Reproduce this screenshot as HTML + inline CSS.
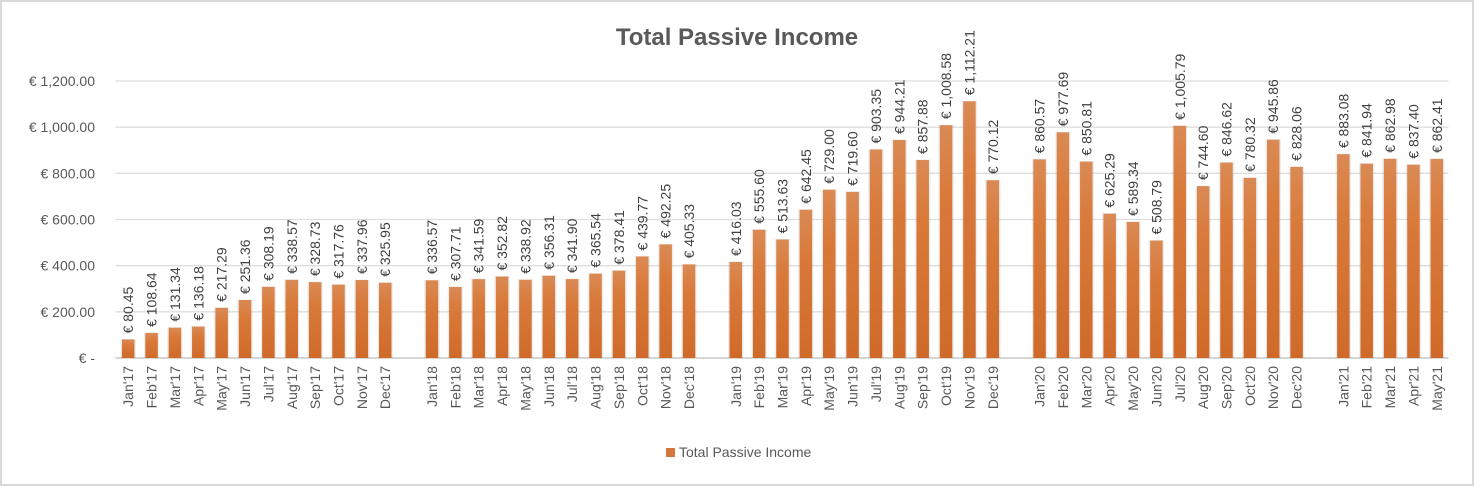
<!DOCTYPE html>
<html><head><meta charset="utf-8"><style>
body{margin:0;background:#fff;}
svg{display:block;font-family:"Liberation Sans",sans-serif;}
</style></head><body>
<svg id="chart" width="1474" height="486" viewBox="0 0 1474 486">
<defs>
<linearGradient id="bg" x1="0" y1="0" x2="0" y2="1"><stop offset="0" stop-color="#da8a55"/><stop offset="0.3" stop-color="#d97a3a"/><stop offset="1" stop-color="#cf6a2a"/></linearGradient>
</defs>
<rect x="1" y="1" width="1472" height="484" fill="#fff" stroke="#d9d9d9" stroke-width="2"/>
<text x="737" y="45" text-anchor="middle" font-size="24" font-weight="bold" fill="#595959">Total Passive Income</text>
<g id="grid"></g><g id="bars"></g><g id="labels"></g>
<g>
<rect x="666" y="448" width="9" height="9" fill="#d5763a"/>
<text x="679" y="457" font-size="14" fill="#595959">Total Passive Income</text>
</g>
</svg>
<script>
const categories=["Jan'17","Feb'17","Mar'17","Apr'17","May'17","Jun'17","Jul'17","Aug'17","Sep'17","Oct'17","Nov'17","Dec'17","",
"Jan'18","Feb'18","Mar'18","Apr'18","May'18","Jun'18","Jul'18","Aug'18","Sep'18","Oct'18","Nov'18","Dec'18","",
"Jan'19","Feb'19","Mar'19","Apr'19","May'19","Jun'19","Jul'19","Aug'19","Sep'19","Oct'19","Nov'19","Dec'19","",
"Jan'20","Feb'20","Mar'20","Apr'20","May'20","Jun'20","Jul'20","Aug'20","Sep'20","Oct'20","Nov'20","Dec'20","",
"Jan'21","Feb'21","Mar'21","Apr'21","May'21"];
const values=[80.45,108.64,131.34,136.18,217.29,251.36,308.19,338.57,328.73,317.76,337.96,325.95,null,
336.57,307.71,341.59,352.82,338.92,356.31,341.90,365.54,378.41,439.77,492.25,405.33,null,
416.03,555.60,513.63,642.45,729.00,719.60,903.35,944.21,857.88,1008.58,1112.21,770.12,null,
860.57,977.69,850.81,625.29,589.34,508.79,1005.79,744.60,846.62,780.32,945.86,828.06,null,
883.08,841.94,862.98,837.40,862.41];
const yTicks=[0,200,400,600,800,1000,1200];
const NS="http://www.w3.org/2000/svg";
const X0=116.5,X1=1448.5,Y0=358,YMAX=1200,YTOP=81;
const slot=(X1-X0)/categories.length;
const xc=i=>X0+slot*(i+0.5);
const y=v=>Y0-(v/YMAX)*(Y0-YTOP);
const fmt=v=>"€ "+v.toLocaleString("en-US",{minimumFractionDigits:2,maximumFractionDigits:2});
function mk(tag,attrs,parent){const e=document.createElementNS(NS,tag);for(const k in attrs)e.setAttribute(k,attrs[k]);parent.appendChild(e);return e;}
const grid=document.getElementById('grid'),bars=document.getElementById('bars'),labels=document.getElementById('labels');
yTicks.forEach(t=>{
  const l=mk('line',{x1:X0-1,x2:X1,y1:y(t),y2:y(t),stroke:t===0?'#c8c8c8':'#dedede','stroke-width':t===0?1.5:1.3},grid);
  
  
  const tx=mk('text',{x:95,y:y(t)+5,'text-anchor':'end','font-size':'14',fill:'#595959'},grid);
  tx.textContent=t===0?"€ -":fmt(t);
  
  
});
const bw=12.5;
categories.forEach((c,i)=>{
  if(!c)return;
  const v=values[i],cx=xc(i);
  const sh=mk('rect',{x:cx-bw/2-1.5,y:y(v)-0.5,width:bw+3,height:Y0-y(v)+0.5,fill:'#000',opacity:0.07},bars);
  
  
  const r=mk('rect',{x:cx-bw/2,y:y(v),width:bw,height:Y0-y(v),fill:'url(#bg)'},bars);
  
  
  const dl=mk('text',{transform:`translate(${cx+5},${y(v)-6}) rotate(-90)`,'font-size':'14',fill:'#404040'},labels);
  dl.textContent=fmt(v);
  
  
  const xl=mk('text',{transform:`translate(${cx+5},${366}) rotate(-90)`,'text-anchor':'end','font-size':'14',fill:'#595959'},labels);
  xl.textContent=c;
  
  
});
</script>
</body></html>
